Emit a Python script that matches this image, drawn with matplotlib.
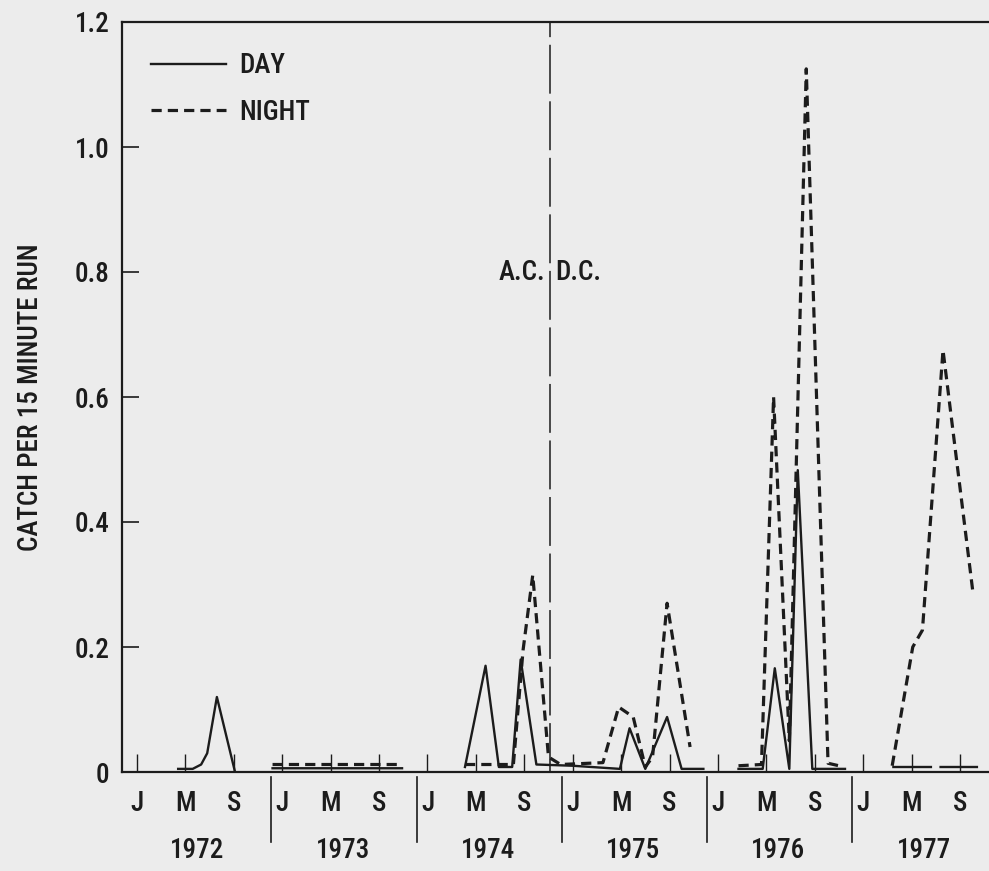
import numpy as np
import matplotlib
matplotlib.use("Agg")
import matplotlib.pyplot as plt
from matplotlib.lines import Line2D

plt.rcParams["font.family"] = ["Roboto Condensed", "DejaVu Sans"]
plt.rcParams["font.stretch"] = "condensed"
plt.rcParams["font.weight"] = "medium"
plt.rcParams["axes.labelweight"] = "medium"
plt.rcParams["font.size"] = 19.5

# months counted from Jan 1972 (= 0); nan breaks the line
day_x = [3.4, 4.6, 5.3, 5.8, 6.6, 8.1, np.nan,
         11.2, 21.9, np.nan,
         27.1, 28.8, 29.9, 31.0, 31.7, 33.0, 36.0, 39.9, 40.7, 42.0, 43.8, 45.0, 46.8, np.nan,
         49.7, 51.7, 52.7, 53.9, 54.6, 55.8, 58.5, np.nan,
         62.5, 65.6, np.nan, 66.4, 69.4]
day_y = [0.005, 0.005, 0.012, 0.03, 0.12, 0.0, np.nan,
         0.006, 0.006, np.nan,
         0.008, 0.17, 0.008, 0.008, 0.18, 0.012, 0.01, 0.005, 0.07, 0.005, 0.088, 0.005, 0.005, np.nan,
         0.005, 0.005, 0.166, 0.005, 0.483, 0.005, 0.005, np.nan,
         0.008, 0.008, np.nan, 0.008, 0.008]

night_x = [11.2, 21.9, np.nan,
           27.1, 31.1, 31.9, 32.7, 34.0, 35.0, 38.5, 39.8, 41.0, 42.0, 42.6, 43.8, 45.7, np.nan,
           49.7, 51.6, 52.6, 53.9, 55.3, 57.1, 58.0, np.nan,
           62.4, 64.1, 64.9, 66.6, 69.1]
night_y = [0.012, 0.012, np.nan,
           0.012, 0.012, 0.195, 0.315, 0.024, 0.012, 0.015, 0.104, 0.088, 0.008, 0.024, 0.27, 0.04, np.nan,
           0.01, 0.012, 0.6, 0.05, 1.125, 0.014, 0.01, np.nan,
           0.01, 0.2, 0.227, 0.675, 0.283]

years = ["1972", "1973", "1974", "1975", "1976", "1977"]
month_labels = ["J", "M", "S"]
month_offsets = [0, 4, 8]
acdc_x = 34.1

ink = "#1c1c1c"
bg = "#ececec"

fig = plt.figure(figsize=(9.89, 8.71), dpi=100, facecolor=bg)
ax = fig.add_axes([122 / 989, 99 / 871, 867 / 989, 750 / 871], facecolor=bg)

ax.plot(day_x, day_y, color=ink, lw=1.7, label="DAY")
ax.plot(night_x, night_y, color=ink, lw=2.3, dashes=(3.2, 1.9), label="NIGHT")

ax.axvline(acdc_x, color=ink, lw=1.1, dashes=(32, 5))
ax.text(acdc_x - 0.35, 0.8, "A.C.", ha="right", va="center", color=ink)
ax.text(acdc_x + 0.45, 0.8, "D.C.", ha="left", va="center", color=ink)

ax.set_xlim(-1.24, 70.4)
ax.set_ylim(0, 1.2)

xt = [12 * k + o for k in range(len(years)) for o in month_offsets]
ax.set_xticks(xt)
ax.set_xticklabels(month_labels * len(years))
ax.set_yticks([0, 0.2, 0.4, 0.6, 0.8, 1.0, 1.2])
ax.set_yticklabels(["0", "0.2", "0.4", "0.6", "0.8", "1.0", "1.2"])
ax.tick_params(axis="x", direction="in", length=13, width=1, pad=13, colors=ink)
ax.tick_params(axis="y", direction="in", length=12, width=1.2, pad=9, colors=ink)

for s in ["left", "top", "bottom"]:
    ax.spines[s].set_linewidth(1.6)
    ax.spines[s].set_color(ink)
ax.spines["right"].set_visible(False)

trans = ax.get_xaxis_transform()
for k, yr in enumerate(years):
    ax.text(12 * k + 5, -0.104, yr, transform=trans, ha="center", va="center", color=ink)
    if k > 0:
        ax.plot([12 * k - 0.9] * 2, [-0.007, -0.093], transform=trans,
                color=ink, lw=1.2, clip_on=False)

ax.set_ylabel("CATCH PER 15 MINUTE RUN", color=ink)
ax.yaxis.set_label_coords(-0.09, 0.5)

leg_handles = [Line2D([], [], color=ink, lw=1.7),
               Line2D([], [], color=ink, lw=2.3, dashes=(3.2, 1.9))]
ax.legend(leg_handles, ["DAY", "NIGHT"], loc="upper left", bbox_to_anchor=(0.034, 0.96),
          frameon=False, handlelength=2.75, handletextpad=0.5, labelspacing=0.72,
          borderpad=0, borderaxespad=0, labelcolor=ink)

fig.savefig("out.png", dpi=100, facecolor=bg)
